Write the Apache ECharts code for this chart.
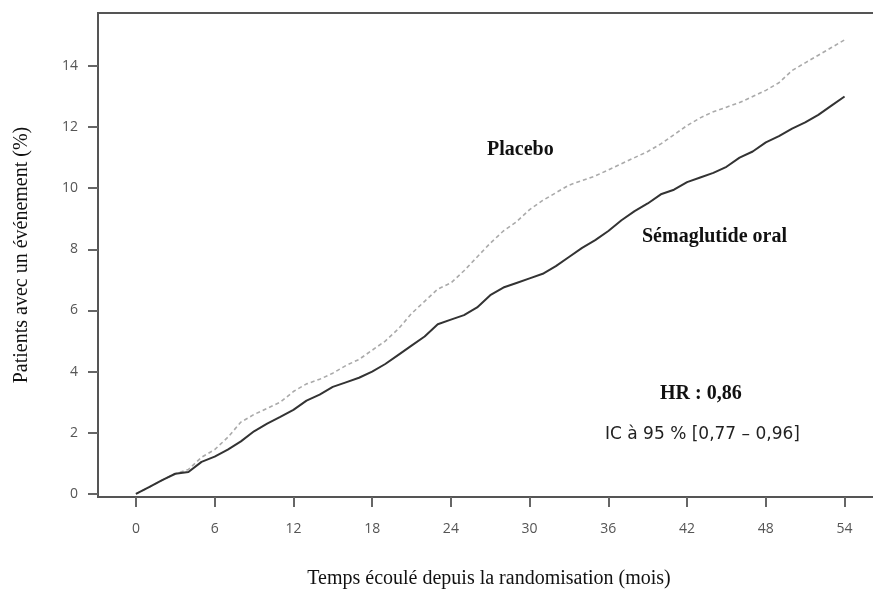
<!DOCTYPE html>
<html>
<head>
<meta charset="utf-8">
<script src="https://cdn.jsdelivr.net/npm/echarts@6/dist/echarts.min.js"></script>
<style>
html, body { margin: 0; padding: 0; background: #fff; }
#chart { width: 873px; height: 597px; }
</style>
</head>
<body>
<div id="chart"></div>
<script>
// mois depuis la randomisation
var months = [];
for (var m = 0; m <= 54; m++) months.push(m);

// courbes cumulées (%), une valeur par mois
var semaglutide = [0, 0.22, 0.45, 0.66, 0.72, 1.05, 1.22, 1.45, 1.72, 2.05,
  2.3, 2.52, 2.75, 3.05, 3.25, 3.5, 3.65, 3.8, 4.0, 4.25,
  4.55, 4.85, 5.15, 5.55, 5.7, 5.85, 6.1, 6.5, 6.75, 6.9,
  7.05, 7.2, 7.45, 7.75, 8.05, 8.3, 8.6, 8.95, 9.25, 9.5,
  9.8, 9.95, 10.2, 10.35, 10.5, 10.7, 11.0, 11.2, 11.5, 11.7,
  11.95, 12.15, 12.4, 12.7, 13.0];
var placebo = [0, 0.22, 0.45, 0.66, 0.8, 1.2, 1.45, 1.85, 2.35, 2.6,
  2.8, 3.0, 3.35, 3.6, 3.75, 3.95, 4.2, 4.4, 4.7, 5.0,
  5.4, 5.9, 6.3, 6.7, 6.9, 7.3, 7.75, 8.2, 8.6, 8.9,
  9.3, 9.6, 9.85, 10.1, 10.25, 10.4, 10.6, 10.8, 11.0, 11.2,
  11.45, 11.75, 12.05, 12.3, 12.5, 12.65, 12.8, 13.0, 13.2, 13.45,
  13.85, 14.1, 14.35, 14.6, 14.85];

var xTicks = [0, 6, 12, 18, 24, 30, 36, 42, 48, 54];
var yTicks = [0, 2, 4, 6, 8, 10, 12, 14];

function pairs(ys) {
  return months.map(function (x, i) { return [x, ys[i]]; });
}

var chart = echarts.init(document.getElementById('chart'));
var serif = '"Liberation Serif", "DejaVu Serif", serif';
var sans = '"Open Sans", "DejaVu Sans", sans-serif';

var option = {
  animation: false,
  grid: {
    left: 98, top: 13, right: -7, bottom: 100,
    outerBoundsMode: 'none',
    show: true, borderColor: '#555', borderWidth: 2
  },
  xAxis: {
    type: 'value',
    min: -2.89, max: 56.7,
    name: 'Temps écoulé depuis la randomisation (mois)',
    nameLocation: 'middle', nameGap: 72,
    nameTextStyle: { fontFamily: serif, fontSize: 20, color: '#111' },
    axisLine: { show: true, onZero: false, lineStyle: { color: '#555', width: 2 } },
    axisTick: { show: true, length: 10, customValues: xTicks, lineStyle: { color: '#666', width: 2 } },
    axisLabel: { customValues: xTicks, margin: 25, fontFamily: sans, fontSize: 14, color: '#555' },
    splitLine: { show: false }
  },
  yAxis: {
    type: 'value',
    min: -0.1, max: 15.73,
    name: 'Patients avec un événement (%)',
    nameLocation: 'middle', nameGap: 66, nameRotate: 90,
    nameTextStyle: { fontFamily: serif, fontSize: 20, color: '#111' },
    axisLine: { show: true, onZero: false, lineStyle: { color: '#555', width: 2 } },
    axisTick: { show: true, length: 10, customValues: yTicks, lineStyle: { color: '#666', width: 2 } },
    axisLabel: { customValues: yTicks, margin: 20, fontFamily: sans, fontSize: 14, color: '#555' },
    splitLine: { show: false }
  },
  series: [
    {
      name: 'Placebo', type: 'line', data: pairs(placebo), symbol: 'none',
      lineStyle: { color: '#aaa', width: 1.6, type: [4, 3] }
    },
    {
      name: 'Sémaglutide oral', type: 'line', data: pairs(semaglutide), symbol: 'none',
      lineStyle: { color: '#333', width: 2 }
    }
  ],
  graphic: [
    { type: 'text', left: 487, top: 140, style: { text: 'Placebo', font: 'bold 20px ' + serif, fill: '#111' } },
    { type: 'text', left: 642, top: 227, style: { text: 'Sémaglutide oral', font: 'bold 20px ' + serif, fill: '#111' } },
    { type: 'text', left: 660, top: 384, style: { text: 'HR : 0,86', font: 'bold 20px ' + serif, fill: '#111' } },
    { type: 'text', left: 605, top: 426, style: { text: 'IC à 95 % [0,77 – 0,96]', font: '17px "DejaVu Sans", sans-serif', fill: '#222' } }
  ]
};
chart.setOption(option);
</script>
</body>
</html>
